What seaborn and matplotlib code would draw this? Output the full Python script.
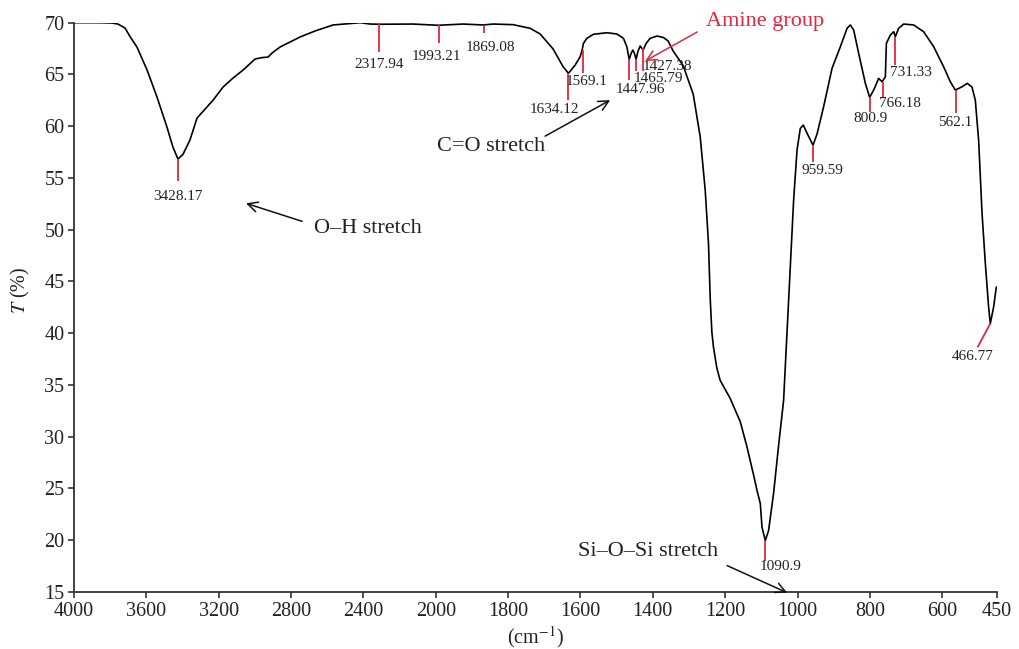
import numpy as np
import pandas as pd
import matplotlib
matplotlib.use("Agg")
import matplotlib.pyplot as plt
import seaborn as sns

# ---------------- data ----------------
wavenumber = [4000, 3856, 3790, 3757, 3718, 3690, 3652, 3596, 3541, 3486, 3453, 3425,
              3397, 3359, 3320, 3265, 3231, 3176, 3121, 3065, 2999, 2960, 2927, 2905,
              2861, 2806, 2750, 2667, 2568, 2418, 2363, 2308, 2125, 1993.5, 1924.4,
              1869.1, 1841.5, 1786.2, 1739.2, 1711.5, 1675.6, 1647.9, 1633.2, 1614.7,
              1600.9, 1595.4, 1591.8, 1582.4, 1564.2, 1527.1, 1499.5, 1481.2, 1471.8,
              1465.4, 1459.9, 1455.2, 1450.8, 1446.1, 1441.4, 1435.0, 1430.3, 1426.7,
              1418.4, 1407.4, 1388.8, 1370.6, 1357.6, 1343.7, 1316.1, 1288.4, 1269.0,
              1255.2, 1246.1, 1241.5, 1236.8, 1232.3, 1222.9, 1213.8, 1186.1, 1158.5,
              1140.0, 1121.4, 1112.0, 1102.9, 1098.2, 1089.1, 1080.0, 1066.1, 1052.3,
              1038.5, 1029.1, 1020.0, 1010.8, 1001.4, 992.3, 984.0, 973.8, 957.2, 946.1,
              927.9, 904.6, 881.6, 863.1, 854.0, 844.8, 831.0, 812.5, 800.6, 789.6,
              775.7, 766.3, 757.2, 754.4, 743.4, 734.2, 729.6, 720.5, 706.6, 679.0,
              651.4, 623.7, 596.1, 577.6, 563.8, 545.3, 530.7, 517.7, 508.6, 499.4,
              490.0, 480.9, 471.8, 467.1, 458.0, 450.5]
transmittance = [70.0, 70.0, 69.97, 69.87, 69.49, 68.65, 67.65, 65.43, 62.81, 59.91, 57.98,
                 56.82, 57.30, 58.66, 60.78, 61.85, 62.52, 63.78, 64.65, 65.43, 66.49,
                 66.63, 66.68, 67.07, 67.65, 68.13, 68.62, 69.20, 69.78, 70.0, 69.87,
                 69.85, 69.87, 69.75, 69.87, 69.78, 69.87, 69.81, 69.46, 68.91, 67.46,
                 65.74, 65.11, 65.91, 66.71, 67.36, 68.0, 68.49, 68.88, 69.03, 68.91,
                 68.49, 67.68, 66.46, 67.04, 67.36, 67.04, 66.46, 67.2, 67.75, 67.52,
                 67.36, 68.0, 68.49, 68.71, 68.57, 68.23, 67.26, 65.85, 63.10, 58.97,
                 53.82, 48.66, 43.47, 40.09, 38.64, 36.61, 35.44, 33.70, 31.47, 29.06,
                 26.29, 24.81, 23.55, 21.26, 19.97, 20.94, 24.56, 29.16, 33.51, 39.99,
                 46.40, 52.85, 57.69, 59.79, 60.11, 59.33, 58.17, 59.24, 61.88, 65.59,
                 67.68, 69.46, 69.78, 69.29, 67.04, 64.14, 62.79, 63.49, 64.62, 64.29,
                 64.78, 68.0, 68.81, 69.13, 68.65, 69.46, 69.87, 69.78, 69.13, 67.68,
                 65.74, 64.29, 63.49, 63.81, 64.14, 63.78, 62.52, 58.66, 51.6, 46.76,
                 42.53, 40.93, 42.53, 44.47]

x_ticks = [4000, 3600, 3200, 2800, 2400, 2000, 1800, 1600, 1400, 1200, 1000, 800, 600, 450]
y_ticks = [15, 20, 25, 30, 35, 40, 45, 50, 55, 60, 65, 70]

# peak labels: text, marker x, marker top T, marker bottom T
peak_labels = ["3428.17", "2317.94", "1993.21", "1869.08", "1634.12", "1569.1",
               "1447.96", "1465.79", "1427.38", "1090.9", "959.59", "800.9",
               "766.18", "731.33", "562.1", "466.77"]
peak_x = [3425, 2313, 1991.6, 1867.2, 1633.2, 1593.5, 1465.4, 1446.1, 1427.6,
          1089.4, 957.5, 801.0, 765.0, 729.9, 562.1, 467.3]
peak_top = [56.8, 69.87, 69.75, 69.78, 65.11, 67.36, 66.46, 66.46, 67.55,
            19.97, 58.17, 62.79, 64.29, 68.65, 63.49, 40.93]
peak_bottom = [54.67, 67.17, 68.04, 69.0, 62.52, 65.14, 64.46, 65.33, 65.33,
               18.04, 56.53, 61.36, 62.72, 65.91, 61.27, 38.64]

# ---------------- layout (positions of labels) ----------------
peak_end_x = list(peak_x)
peak_end_x[-1] = 502.4
label_pos = [(3425, 53.24), (2313, 66.0), (1997.1, 66.78), (1849.8, 67.65),
             (1672.8, 61.65), (1584.3, 64.36), (1435.0, 63.5), (1385.3, 64.65),
             (1360.4, 65.81), (1047.9, 17.46), (931.8, 55.75), (799.1, 60.78),
             (716.1, 62.23), (685.7, 65.23), (564.1, 60.4), (517.0, 37.77)]

group_text = ["O–H stretch", "C=O stretch", "Amine group", "Si–O–Si stretch"]
group_text_pos = [(2374, 50.13), (1847, 58.08), (1089.4, 70.07), (1413, 18.9)]
group_tail = [(2739, 50.81), (1697.7, 59.04), (1277.4, 69.1), (1194.5, 17.55)]
group_head = [(3049, 52.55), (1517.9, 62.52), (1421.2, 66.3), (1028.6, 14.93)]

RED = "#e3263f"
group_colors = ["#111111", "#111111", RED, "#111111"]

# ---------------- style ----------------
sns.set_style("ticks")
plt.rcParams["font.family"] = ["Liberation Serif", "DejaVu Serif"]
plt.rcParams["mathtext.fontset"] = "stix"

fig = plt.figure(figsize=(10.19, 6.49), dpi=100)
ax = fig.add_axes([74 / 1019, 1 - 592 / 649, (996.5 - 74) / 1019, (592 - 22.7) / 649])


def fwd(w):
    w = np.asarray(w, dtype=float)
    return np.where(w > 2000, 2000 + (w - 2000) / 2.0, w)


def inv(u):
    u = np.asarray(u, dtype=float)
    return np.where(u > 2000, 2000 + (u - 2000) * 2.0, u)


ax.set_xscale("function", functions=(fwd, inv))

df = pd.DataFrame({"wavenumber": wavenumber, "T": transmittance})
sns.lineplot(data=df, x="wavenumber", y="T", ax=ax, color="black", lw=1.2,
             sort=False, estimator=None)

ax.set_xlim(4000, 450)
ax.set_ylim(15, 70)
ax.set_xticks(x_ticks)
ax.set_xticklabels([str(t) for t in x_ticks])
ax.set_yticks(y_ticks)
ax.xaxis.set_minor_locator(matplotlib.ticker.NullLocator())

for s in ["top", "right"]:
    ax.spines[s].set_visible(False)
for s in ["left", "bottom"]:
    ax.spines[s].set_color("#333333")
    ax.spines[s].set_linewidth(1.3)
ax.tick_params(axis="both", direction="out", length=4, width=1.2, color="#333333",
               labelsize=14.5, labelcolor="#222222", pad=3)

ax.set_ylabel("$T$ (%)", fontsize=14.5, color="#222222")
ax.yaxis.set_label_coords(-0.046, 0.53)
ax.set_xlabel("(cm$^{-1}$)", fontsize=14.5, color="#222222")
ax.xaxis.set_label_coords(0.5, -0.056)

# peak markers
for lab, x0, x1, t0, t1, (lx, ly) in zip(peak_labels, peak_x, peak_end_x, peak_top,
                                         peak_bottom, label_pos):
    ax.plot([x0, x1], [t0, t1], color=RED, lw=1.3, solid_capstyle="butt", clip_on=False)
    ax.text(lx, ly, lab, ha="center", va="center", fontsize=11, color="#222222",
            clip_on=False)

# functional group annotations
for txt, (tx, ty), (ax0, ay0), (hx, hy), c in zip(group_text, group_text_pos, group_tail,
                                                  group_head, group_colors):
    ax.text(tx, ty, txt, ha="center", va="center", fontsize=16,
            color=c if c == RED else "#222222", clip_on=False)
    ax.annotate("", xy=(hx, hy), xytext=(ax0, ay0),
                arrowprops=dict(arrowstyle="->", color=c, lw=1.1,
                                mutation_scale=18, shrinkA=0, shrinkB=0),
                annotation_clip=False)

fig.savefig("out.png", dpi=100)
